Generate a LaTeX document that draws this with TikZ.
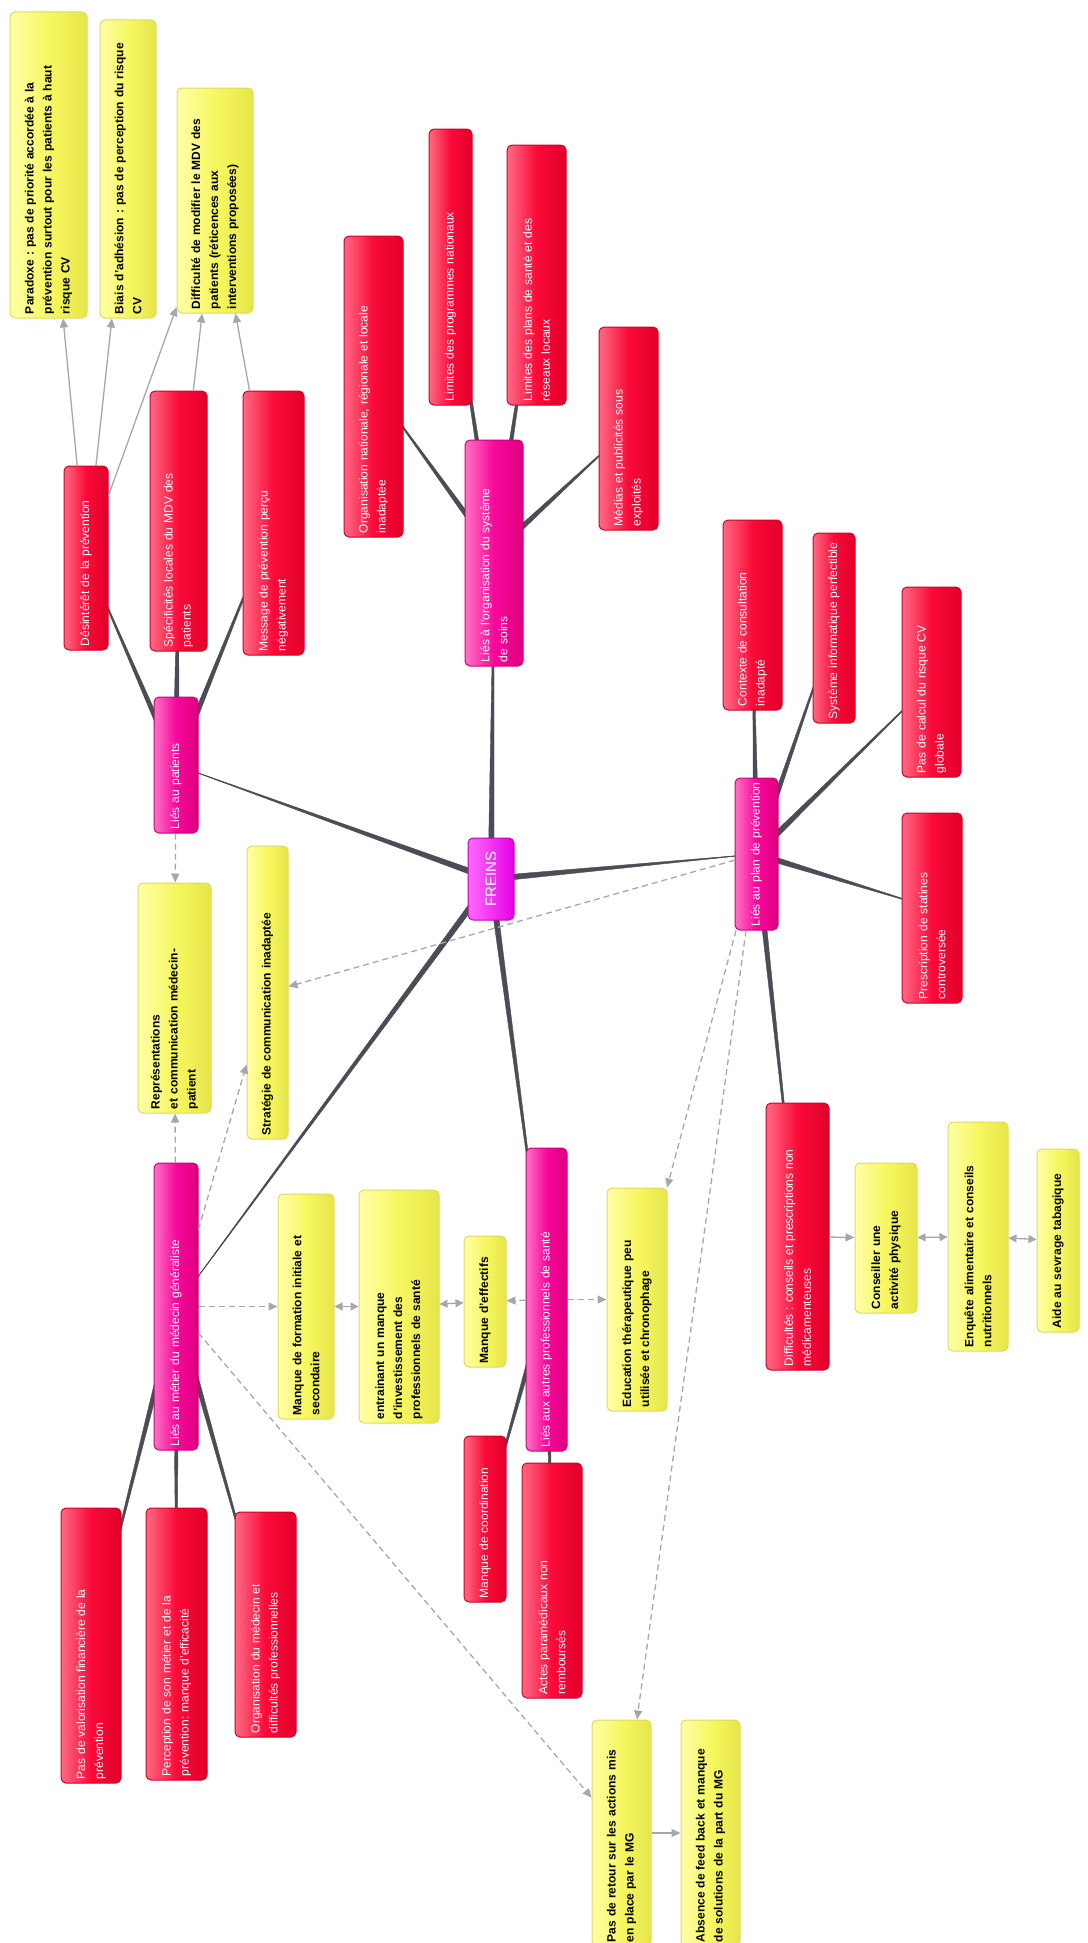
\documentclass[tikz,border=0pt]{standalone}
\usepackage{fontspec}
\setmainfont{Liberation Sans}
\usetikzlibrary{calc,arrows.meta}

\definecolor{wiregray}{HTML}{4A4D55}
\definecolor{arrowgray}{HTML}{A5A7AD}
\definecolor{ylight}{HTML}{FFFFA8}
\definecolor{ymid}{HTML}{F7F760}
\definecolor{ydark}{HTML}{E6E64A}
\definecolor{yborder}{HTML}{DCDC5C}
\definecolor{rlight}{HTML}{FF6A84}
\definecolor{rmid}{HTML}{FA0A38}
\definecolor{rdark}{HTML}{E2002A}
\definecolor{rborder}{HTML}{D20027}
\definecolor{mlight}{HTML}{FF72C4}
\definecolor{mmid}{HTML}{F7079A}
\definecolor{mdark}{HTML}{E0007F}
\definecolor{mborder}{HTML}{CC0078}
\definecolor{flight}{HTML}{FF6AFF}
\definecolor{fdark}{HTML}{E600E6}

\pgfdeclarelayer{background}
\pgfsetlayers{background,main}

\tikzset{
  sized/.style 2 args={rotate=90, rounded corners=5pt, line width=1pt,
    inner xsep=4pt, inner ysep=2pt, minimum width=#1pt, minimum height=#2pt,
    text width=#1pt-8pt, align=left},
  ynode/.style={draw=yborder, left color=ylight, right color=ydark, middle color=ymid,
    text=black, font=\bfseries\fontsize{12}{18}\selectfont},
  rnode/.style={draw=rborder, left color=rlight, right color=rdark, middle color=rmid,
    text=white, font=\fontsize{12}{18}\selectfont},
  mnode/.style={draw=mborder, left color=mlight, right color=mdark, middle color=mmid,
    text=white, font=\fontsize{12}{18}\selectfont},
  topnode/.style={draw=fdark!85!black, left color=flight, right color=fdark,
    text=white, font=\fontsize{15}{18}\selectfont, rotate=90, rounded corners=5pt,
    line width=1pt, minimum width=82pt, minimum height=46pt},
  wire/.style={fill=wiregray, draw=wiregray},
  garrow/.style={draw=arrowgray, line width=1.3pt, -{Triangle[length=9pt,width=8pt]}},
  dasharrow/.style={garrow, dash pattern=on 6pt off 4pt},
  twoway/.style={draw=arrowgray, line width=1.3pt,
    {Triangle[length=8pt,width=8pt]}-{Triangle[length=8pt,width=8pt]}},
}

% tapered branch, thick at the parent
\newcommand{\taper}[2]{%
  \fill[wire] ($(#1)!3pt!90:(#2)$) -- ($(#1)!3pt!-90:(#2)$) -- (#2.center) -- cycle;
  \draw[wire, line width=0.6pt] (#1.center) -- (#2.center);
}

\begin{document}
\frenchspacing
\begin{tikzpicture}[x=1pt, y=-1pt]
\useasboundingbox (0,0) rectangle (1087,1943);
\clip (0,0) rectangle (1087,1943);

% centre
\node[topnode] (freins) at (491,879) {FREINS};

% first level
\node[mnode, sized={226}{58}] (sys) at (494,553) {Liés à l'organisation du système\\de soins};
\node[mnode, sized={136}{44}] (patients) at (176,765) {Liés au patients};
\node[mnode, sized={287}{44}] (metier) at (176,1306.5) {Liés au métier du médecin généraliste};
\node[mnode, sized={303}{41}] (autres) at (546.5,1299.5) {Liés aux autres professionnels de santé};
\node[mnode, sized={152}{43}] (plan) at (756.5,854) {Liés au plan de prévention};

% patients
\node[rnode, sized={184}{44}] (desint) at (86,558) {Désintérêt de la prévention};
\node[rnode, sized={260}{57}] (specif) at (178.5,521) {Spécificités locales du MDV des\\patients};
\node[rnode, sized={264}{61}] (message) at (273.5,523) {Message de prévention perçu\\négativement};
\node[ynode, sized={306}{77}] (parad) at (48.5,165) {Paradoxe : pas de priorité accordée à la\\prévention surtout pour les patients à haut\\risque CV};
\node[ynode, sized={298}{56}] (biais) at (128,169) {Biais d'adhésion : pas de perception du risque\\CV};
\node[ynode, sized={225}{76}] (modif) at (215,200.5) {Difficulté de modifier le MDV des\\patients (réticences aux\\interventions proposées)};
\node[ynode, sized={230}{73}] (repr) at (174.5,998) {Représentations\\et communication médecin-\\patient};
\node[ynode, sized={293}{41}] (strat) at (267.5,992.5) {Stratégie de communication inadaptée};

% systeme de soins
\node[rnode, sized={301}{59}] (orgnat) at (373.5,386.5) {Organisation nationale, régionale et locale\\inadaptée};
\node[rnode, sized={276}{43}] (limprog) at (450.5,267) {Limites des programmes nationaux};
\node[rnode, sized={260}{59}] (limplan) at (536.5,275) {Limites des plans de santé et des\\réseaux locaux};
\node[rnode, sized={203}{59}] (medias) at (628.5,428.5) {Médias et publicités sous\\exploités};

% plan de prevention
\node[rnode, sized={190}{59}] (contexte) at (752.5,615) {Contexte de consultation\\inadapté};
\node[rnode, sized={190}{42}] (info) at (834,628) {Système informatique perfectible};
\node[rnode, sized={190}{59}] (calcul) at (931.5,682) {Pas de calcul du risque CV\\globale};
\node[rnode, sized={190}{60}] (statines) at (932,908) {Prescription de statines\\controversée};
\node[rnode, sized={267}{63}] (diffic) at (797.5,1236.5) {Difficultés : conseils et prescriptions non\\médicamenteuses};
\node[ynode, sized={150}{62}] (phys) at (886,1238) {Conseiller une\\activité physique};
\node[ynode, sized={229}{60}] (nutri) at (978,1236.5) {Enquête alimentaire et conseils\\nutritionnels};
\node[ynode, sized={183}{42}] (tabac) at (1058,1240.5) {Aide au sevrage tabagique};

% metier
\node[rnode, sized={275}{60}] (valor) at (91,1645.5) {Pas de valorisation financière de la\\prévention};
\node[rnode, sized={272}{61}] (percep) at (176.5,1644) {Perception de son métier et de la\\prévention: manque d'efficacité};
\node[rnode, sized={225}{61}] (orgmed) at (265.5,1624.5) {Organisation du médecin et\\difficultés professionnelles};
\node[ynode, sized={225}{56}] (form) at (306,1306.5) {Manque de formation initiale et\\secondaire};
\node[ynode, sized={233}{80}] (invest) at (399,1306.5) {entrainant un manque\\d'investissement des\\professionnels de santé};
\node[ynode, sized={131}{42}] (effect) at (485,1301.5) {Manque d'effectifs};

% autres professionnels
\node[rnode, sized={166}{42}] (coord) at (485,1519) {Manque de coordination};
\node[rnode, sized={235}{60}] (actes) at (552,1580.5) {Actes paramédicaux non\\remboursés};
\node[ynode, sized={223}{60}] (educ) at (637,1299.5) {Education thérapeutique peu\\utilisée et chronophage};
\node[ynode, sized={226}{59}] (retour) at (621.5,1833) {Pas de retour sur les actions mis\\en place par le MG};
\node[ynode, sized={226}{59}] (feedb) at (710.5,1833) {Absence de feed back et manque\\de solutions de la part du MG};

\begin{pgfonlayer}{background}
\foreach \x/\y in {freins/sys,freins/patients,freins/plan,freins/metier,freins/autres,
    sys/orgnat,sys/limprog,sys/limplan,sys/medias,
    patients/desint,patients/specif,patients/message,
    plan/contexte,plan/info,plan/calcul,plan/statines,plan/diffic,
    metier/valor,metier/percep,metier/orgmed,
    autres/coord,autres/actes}{
  \taper{\x}{\y}
}
\end{pgfonlayer}

\foreach \x/\y in {desint/parad,desint/biais,desint/modif,specif/modif,message/modif,
    diffic/phys,retour/feedb}
  \draw[garrow] (\x) -- (\y);

\foreach \x/\y in {patients/repr,metier/repr,metier/strat,plan/strat,metier/form,
    autres/effect,autres/educ,plan/educ,plan/retour,metier/retour}
  \draw[dasharrow] (\x) -- (\y);

\foreach \x/\y in {form/invest,invest/effect,phys/nutri,nutri/tabac}
  \draw[twoway] (\x) -- (\y);

\end{tikzpicture}
\end{document}
